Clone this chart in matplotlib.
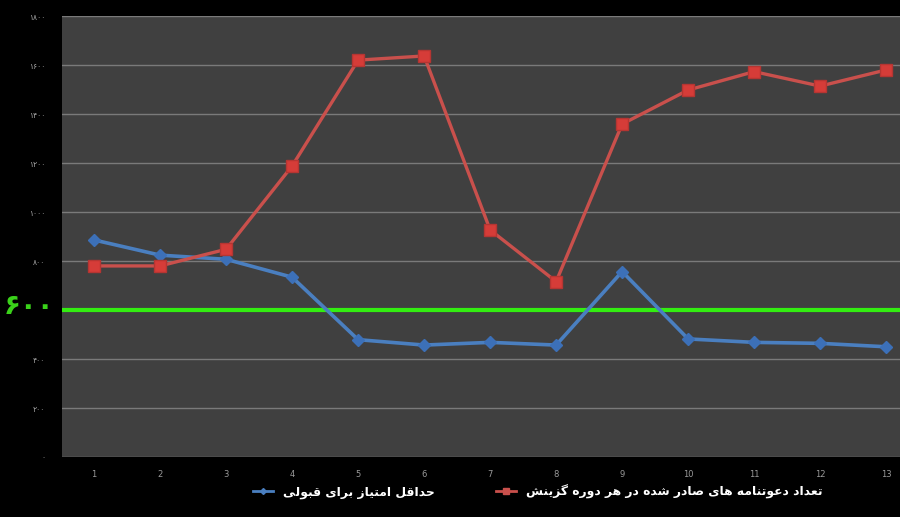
import matplotlib
matplotlib.use("Agg")
import matplotlib.pyplot as plt
from matplotlib.lines import Line2D

# data
periods = list(range(1, 14))
invites = [780, 780, 848, 1188, 1620, 1637, 927, 716, 1359, 1498, 1573, 1514, 1580]
min_score = [886, 824, 807, 734, 479, 457, 468, 457, 757, 482, 468, 464, 450]
threshold = 600
y_ticks = [0, 200, 400, 800, 1000, 1200, 1400, 1600, 1800]

label_invites = "تعداد دعوتنامه های صادر شده در هر دوره گزینش"
label_score = "حداقل امتیاز برای قبولی"

# minimal persian shaping (matplotlib has no complex text layout)
forms = {
    'ا': ('\uFE8D', '\uFE8E', None, None),
    'ب': ('\uFE8F', '\uFE90', '\uFE91', '\uFE92'),
    'ت': ('\uFE95', '\uFE96', '\uFE97', '\uFE98'),
    'ح': ('\uFEA1', '\uFEA2', '\uFEA3', '\uFEA4'),
    'د': ('\uFEA9', '\uFEAA', None, None),
    'ر': ('\uFEAD', '\uFEAE', None, None),
    'ز': ('\uFEAF', '\uFEB0', None, None),
    'ش': ('\uFEB5', '\uFEB6', '\uFEB7', '\uFEB8'),
    'ص': ('\uFEB9', '\uFEBA', '\uFEBB', '\uFEBC'),
    'ع': ('\uFEC9', '\uFECA', '\uFECB', '\uFECC'),
    'ق': ('\uFED5', '\uFED6', '\uFED7', '\uFED8'),
    'ل': ('\uFEDD', '\uFEDE', '\uFEDF', '\uFEE0'),
    'م': ('\uFEE1', '\uFEE2', '\uFEE3', '\uFEE4'),
    'ن': ('\uFEE5', '\uFEE6', '\uFEE7', '\uFEE8'),
    'ه': ('\uFEE9', '\uFEEA', '\uFEEB', '\uFEEC'),
    'و': ('\uFEED', '\uFEEE', None, None),
    'ی': ('\uFBFC', '\uFBFD', '\uFBFE', '\uFBFF'),
    'گ': ('\uFB92', '\uFB93', '\uFB94', '\uFB95'),
}


def shape(s):
    out = []
    for i, c in enumerate(s):
        if c not in forms:
            out.append(c)
            continue
        prev = s[i - 1] if i > 0 else ''
        nxt = s[i + 1] if i + 1 < len(s) else ''
        jp = prev in forms and forms[prev][2] is not None
        jn = forms[c][2] is not None and nxt in forms
        iso, fin, ini, med = forms[c]
        if jp and jn:
            out.append(med)
        elif jp:
            out.append(fin)
        elif jn:
            out.append(ini)
        else:
            out.append(iso)
    return ''.join(out)[::-1]


def fa_digits(n):
    return str(n).translate(str.maketrans('0123456789', '۰۱۲۳۴۵۶۷۸۹'))


fig = plt.figure(figsize=(9, 5.17), dpi=100, facecolor='black')
ax = fig.add_axes([0.069, 0.116, 0.931, 0.853])
ax.set_facecolor('#404040')

ax.set_xlim(0.515, 13.21)
ax.set_ylim(0, 1800)
ax.set_yticks(y_ticks)
ax.set_yticklabels([fa_digits(v) for v in y_ticks], fontsize=5.5, color='#a8a8a8')
ax.set_xticks(periods)
ax.set_xticklabels([str(p) for p in periods], fontsize=6, color='#9a9a9a')
ax.tick_params(length=0)
ax.tick_params(axis='y', pad=12)
ax.tick_params(axis='x', pad=9)
ax.grid(axis='y', color='#7a7a7a', linewidth=1)
ax.set_axisbelow(True)
for sp in ax.spines.values():
    sp.set_visible(False)

ax.axhline(threshold, color='#33ee11', linewidth=3, zorder=2)

ax.plot(periods, min_score, color='#4a7fc0', linewidth=2.6, marker='D',
        markersize=6, markerfacecolor='#3c70b8', markeredgecolor='#3c70b8', zorder=3)
ax.plot(periods, invites, color='#c9504c', linewidth=2.4, marker='s',
        markersize=8, markerfacecolor='#d63c38', markeredgecolor='#b53532', zorder=4)

fig.text(54 / 900, 1 - 306 / 517, fa_digits(threshold), color='#3ad21a', fontsize=20,
         fontweight='bold', ha='right', va='center')

h_score = Line2D([], [], color='#4a7fc0', linewidth=2, marker='D', markersize=3)
h_inv = Line2D([], [], color='#c9504c', linewidth=2, marker='s', markersize=5)
leg = fig.legend([h_score, h_inv], [shape(label_score), shape(label_invites)],
                 loc='center', bbox_to_anchor=(538 / 900, 1 - 492 / 517), ncol=2,
                 frameon=False, handlelength=1.6, columnspacing=5.0,
                 prop={'family': 'DejaVu Sans', 'weight': 'bold', 'size': 8.9})
for t in leg.get_texts():
    t.set_color('white')

fig.savefig('out.png', dpi=100, facecolor='black')
